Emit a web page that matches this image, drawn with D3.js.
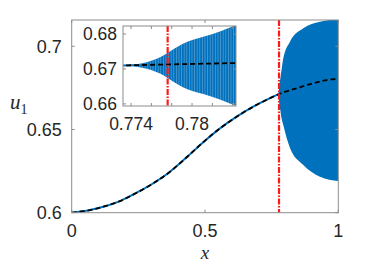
<!DOCTYPE html>
<html>
<head>
<meta charset="utf-8">
<script src="https://cdn.jsdelivr.net/npm/d3@7"></script>
<style>
  body { margin: 0; background: white; }
  text { font-family: "Liberation Sans", Arial, Helvetica, sans-serif; fill: #262626; }
</style>
</head>
<body>
<script>
const width = 374;
const height = 267;

// steady solution u1(x)
const baseX = [0, 0.0686, 0.1185, 0.1812, 0.2438, 0.3061, 0.3687, 0.4062, 0.4314, 0.4936, 0.5563, 0.6189, 0.6812, 0.7438, 0.7730, 0.7843, 0.844, 0.906, 0.980, 1.0];
const baseY = [0.6, 0.6016, 0.6036, 0.6070, 0.6120, 0.6177, 0.6246, 0.6297, 0.6333, 0.6424, 0.6507, 0.6577, 0.6637, 0.6688, 0.6710, 0.6717, 0.6748, 0.6778, 0.6802, 0.6803];

// envelope of the oscillating solution
const envX = [0.7730, 0.7752, 0.7769, 0.7777, 0.7791, 0.7811, 0.7828, 0.7839, 0.7937, 0.8188, 0.8687, 0.9313, 1.0];
const envHi = [0.6710, 0.6717, 0.6734, 0.6748, 0.6772, 0.6792, 0.6808, 0.6821, 0.6928, 0.7028, 0.7108, 0.7148, 0.7162];
const envLo = [0.6710, 0.6703, 0.6686, 0.6672, 0.6648, 0.6628, 0.6612, 0.6599, 0.6527, 0.6389, 0.6287, 0.6216, 0.6190];

// onset marker
const xOnset = 0.7776;

const mainXTicks = [0, 0.5, 1];
const mainYTicks = [0.6, 0.65, 0.7];
const insetXTicks = [0.774, 0.776, 0.778, 0.78, 0.782, 0.784];
const insetXLabels = [0.774, 0.78];
const insetYTicks = [0.66, 0.67, 0.68];

const blue = "#0072BD";
const axisColor = "#8c8c8c";

const svg = d3.select("body").append("svg")
  .attr("width", width)
  .attr("height", height);

const defs = svg.append("defs");
const pat = defs.append("pattern")
  .attr("id", "stripes")
  .attr("patternUnits", "userSpaceOnUse")
  .attr("width", 2.6)
  .attr("height", 10);
pat.append("rect").attr("width", 2.6).attr("height", 10).attr("fill", blue);
pat.append("rect").attr("x", 1.9).attr("width", 0.7).attr("height", 10).attr("fill", "#5c9fd3");

const baseData = baseX.map((x, i) => ({ x: x, y: baseY[i] }));
const envData = envX.map((x, i) => ({ x: x, hi: envHi[i], lo: envLo[i] }));

function drawPanel(opts) {
  const x = d3.scaleLinear().domain(opts.xDomain).range([opts.left, opts.right]);
  const y = d3.scaleLinear().domain(opts.yDomain).range([opts.bottom, opts.top]);
  const g = svg.append("g");

  g.append("rect")
    .attr("x", opts.left).attr("y", opts.top)
    .attr("width", opts.right - opts.left).attr("height", opts.bottom - opts.top)
    .attr("fill", "white");

  defs.append("clipPath").attr("id", opts.id)
    .append("rect")
    .attr("x", opts.left).attr("y", opts.top)
    .attr("width", opts.right - opts.left).attr("height", opts.bottom - opts.top);

  const plot = g.append("g").attr("clip-path", `url(#${opts.id})`);

  const line = d3.line().x(d => x(d.x)).y(d => y(d.y)).curve(d3.curveMonotoneX);
  const area = d3.area().x(d => x(d.x)).y0(d => y(d.lo)).y1(d => y(d.hi)).curve(d3.curveMonotoneX);

  plot.append("path")
    .datum(baseData.filter(d => d.x <= 0.7843))
    .attr("fill", "none")
    .attr("stroke", blue)
    .attr("stroke-width", 2)
    .attr("d", line);

  plot.append("path")
    .datum(envData)
    .attr("fill", opts.fill)
    .attr("stroke", "none")
    .attr("d", area);

  plot.append("path")
    .datum(baseData)
    .attr("fill", "none")
    .attr("stroke", "black")
    .attr("stroke-width", 1.8)
    .attr("stroke-dasharray", "5,3")
    .attr("d", line);

  plot.append("line")
    .attr("x1", x(xOnset)).attr("x2", x(xOnset))
    .attr("y1", opts.top).attr("y2", opts.bottom)
    .attr("stroke", "#ff1a1a")
    .attr("stroke-width", 2.2)
    .attr("stroke-dasharray", "6,1.5,1.5,1.5");

  const tl = 3;
  // ticks inside, on all four sides
  opts.xTicks.forEach(t => {
    g.append("line").attr("x1", x(t)).attr("x2", x(t)).attr("y1", opts.bottom).attr("y2", opts.bottom - tl).attr("stroke", axisColor);
    g.append("line").attr("x1", x(t)).attr("x2", x(t)).attr("y1", opts.top).attr("y2", opts.top + tl).attr("stroke", axisColor);
  });
  opts.yTicks.forEach(t => {
    g.append("line").attr("y1", y(t)).attr("y2", y(t)).attr("x1", opts.left).attr("x2", opts.left + tl).attr("stroke", axisColor);
    g.append("line").attr("y1", y(t)).attr("y2", y(t)).attr("x1", opts.right).attr("x2", opts.right - tl).attr("stroke", axisColor);
  });

  g.append("rect")
    .attr("x", opts.left).attr("y", opts.top)
    .attr("width", opts.right - opts.left).attr("height", opts.bottom - opts.top)
    .attr("fill", "none")
    .attr("stroke", axisColor)
    .attr("stroke-width", 1);

  g.selectAll(".xl")
    .data(opts.xLabels)
    .enter()
    .append("text")
    .attr("x", d => x(d))
    .attr("y", opts.bottom + opts.xPad)
    .attr("text-anchor", "middle")
    .attr("font-size", opts.fontSize)
    .text(d => d3.format("")(d));

  g.selectAll(".yl")
    .data(opts.yTicks)
    .enter()
    .append("text")
    .attr("x", opts.left - opts.yPad)
    .attr("y", d => y(d))
    .attr("dy", "0.35em")
    .attr("text-anchor", "end")
    .attr("font-size", opts.fontSize)
    .text(d => d3.format("")(d));
}

drawPanel({
  id: "clipMain",
  left: 71.7, right: 338.3, top: 20, bottom: 212.7,
  xDomain: [0, 1], yDomain: [0.6, 0.7158],
  xTicks: mainXTicks, xLabels: mainXTicks, yTicks: mainYTicks,
  fill: blue, fontSize: 18, xPad: 24, yPad: 10
});

drawPanel({
  id: "clipInset",
  left: 123, right: 236, top: 26, bottom: 106,
  xDomain: [0.77321, 0.78432], yDomain: [0.6594, 0.6823],
  xTicks: insetXTicks, xLabels: insetXLabels, yTicks: insetYTicks,
  fill: "url(#stripes)", fontSize: 17.5, xPad: 24, yPad: 6
});

svg.append("text")
  .attr("x", 205)
  .attr("y", 259)
  .attr("text-anchor", "middle")
  .style("font-family", "'Liberation Serif', 'DejaVu Serif', serif")
  .attr("font-style", "italic")
  .attr("font-size", 19)
  .text("x");

const ylab = svg.append("text")
  .attr("x", 10)
  .attr("y", 109)
  .style("font-family", "'Liberation Serif', 'DejaVu Serif', serif")
  .attr("font-style", "italic")
  .attr("font-size", 21);
ylab.append("tspan").text("u");
ylab.append("tspan")
  .attr("font-size", 14)
  .attr("font-style", "normal")
  .attr("dy", 5)
  .text("1");
</script>
</body>
</html>
